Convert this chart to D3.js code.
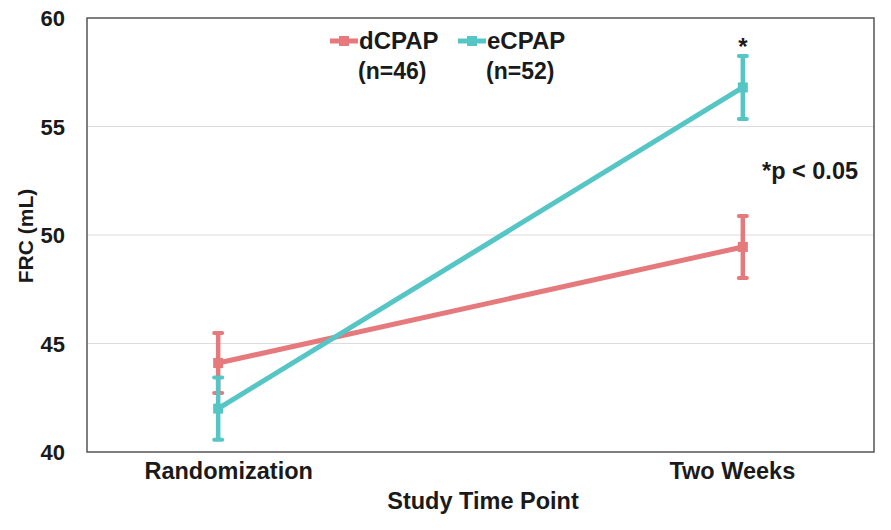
<!DOCTYPE html>
<html>
<head>
<meta charset="utf-8">
<script src="https://cdn.jsdelivr.net/npm/d3@7"></script>
<style>
  body { margin: 0; background: #fff; }
  svg text { font-family: "Liberation Sans", Arial, sans-serif; font-weight: bold; fill: #1a1a1a; }
</style>
</head>
<body>
<div id="grafico"></div>
<script>
// datos
var categorias = ["Randomization", "Two Weeks"];
var series = ["dCPAP", "eCPAP"];
var tamanos = ["(n=46)", "(n=52)"];
var mediaD = [44.1, 49.45];
var errorD = [1.38, 1.43];
var mediaE = [42.0, 56.8];
var errorE = [1.43, 1.45];
var ticksY = [40, 45, 50, 55, 60];

var ROJO = "#e5797b";
var TEAL = "#55c5c5";

var ancho = 891, alto = 530;
var margen = { top: 18, right: 17, bottom: 78, left: 87 };

var svg = d3.select("#grafico").append("svg")
  .attr("width", ancho).attr("height", alto);

var x = d3.scalePoint().domain(categorias)
  .range([margen.left, ancho - margen.right]).padding(0.25);
var y = d3.scaleLinear().domain([40, 60])
  .range([alto - margen.bottom, margen.top]);

// rejilla
svg.append("g").selectAll("line").data(ticksY.slice(1, -1)).enter().append("line")
  .attr("x1", margen.left).attr("x2", ancho - margen.right)
  .attr("y1", function (d) { return y(d); }).attr("y2", function (d) { return y(d); })
  .attr("stroke", "#dcdcdc").attr("stroke-width", 1.2);

// marco
svg.append("rect")
  .attr("x", margen.left).attr("y", margen.top)
  .attr("width", ancho - margen.left - margen.right)
  .attr("height", alto - margen.top - margen.bottom)
  .attr("fill", "none").attr("stroke", "#555").attr("stroke-width", 1.5);

// eje y
var ejeY = svg.append("g")
  .attr("transform", "translate(" + margen.left + ",0)")
  .call(d3.axisLeft(y).tickValues(ticksY).tickSize(0).tickPadding(22));
ejeY.select(".domain").remove();
ejeY.selectAll("text").style("font-size", "22px").attr("dy", "0.36em");

// eje x
var ejeX = svg.append("g")
  .attr("transform", "translate(0," + (alto - margen.bottom) + ")")
  .call(d3.axisBottom(x).tickSize(0).tickPadding(10));
ejeX.select(".domain").remove();
ejeX.selectAll("text").style("font-size", "23.5px")
  .attr("dx", function (d, i) { return i === 0 ? 10 : -11; });

svg.append("text")
  .attr("x", 483).attr("y", 509)
  .attr("text-anchor", "middle").style("font-size", "23.5px")
  .text("Study Time Point");

svg.append("text")
  .attr("transform", "translate(33,236) rotate(-90)")
  .attr("text-anchor", "middle").style("font-size", "21px")
  .text("FRC (mL)");

function dibujarSerie(medias, errores, color) {
  var filas = categorias.map(function (c, i) {
    return { cat: c, m: medias[i], e: errores[i] };
  });
  var g = svg.append("g");
  g.append("path").datum(filas)
    .attr("fill", "none").attr("stroke", color).attr("stroke-width", 5)
    .attr("d", d3.line().x(function (d) { return x(d.cat); }).y(function (d) { return y(d.m); }));

  var barras = g.selectAll("g.err").data(filas).enter().append("g").attr("class", "err");
  barras.append("line")
    .attr("x1", function (d) { return x(d.cat); }).attr("x2", function (d) { return x(d.cat); })
    .attr("y1", function (d) { return y(d.m - d.e); }).attr("y2", function (d) { return y(d.m + d.e); })
    .attr("stroke", color).attr("stroke-width", 4.5);
  [-1, 1].forEach(function (s) {
    barras.append("line")
      .attr("x1", function (d) { return x(d.cat) - 4; }).attr("x2", function (d) { return x(d.cat) + 4; })
      .attr("y1", function (d) { return y(d.m + s * d.e); }).attr("y2", function (d) { return y(d.m + s * d.e); })
      .attr("stroke", color).attr("stroke-width", 4).attr("stroke-linecap", "round");
  });
  barras.append("rect")
    .attr("x", function (d) { return x(d.cat) - 5; })
    .attr("y", function (d) { return y(d.m) - 5; })
    .attr("width", 10).attr("height", 10)
    .attr("fill", color);
}

dibujarSerie(mediaD, errorD, ROJO);
dibujarSerie(mediaE, errorE, TEAL);

// leyenda
var colores = [ROJO, TEAL];
var leyendaX = [330, 458];
series.forEach(function (s, i) {
  var lx = leyendaX[i];
  svg.append("line")
    .attr("x1", lx).attr("x2", lx + 28).attr("y1", 41).attr("y2", 41)
    .attr("stroke", colores[i]).attr("stroke-width", 5);
  svg.append("rect")
    .attr("x", lx + 9).attr("y", 36).attr("width", 10).attr("height", 10)
    .attr("fill", colores[i]);
  svg.append("text")
    .attr("x", lx + 29).attr("y", 49).style("font-size", "24px").text(s);
  svg.append("text")
    .attr("x", lx + 28).attr("y", 79).style("font-size", "23px").text(tamanos[i]);
});

// significancia
svg.append("text")
  .attr("x", x("Two Weeks")).attr("y", 55)
  .attr("text-anchor", "middle").style("font-size", "24px").text("*");
svg.append("text")
  .attr("x", 762).attr("y", 179).style("font-size", "23.5px").text("*p < 0.05");
</script>
</body>
</html>
